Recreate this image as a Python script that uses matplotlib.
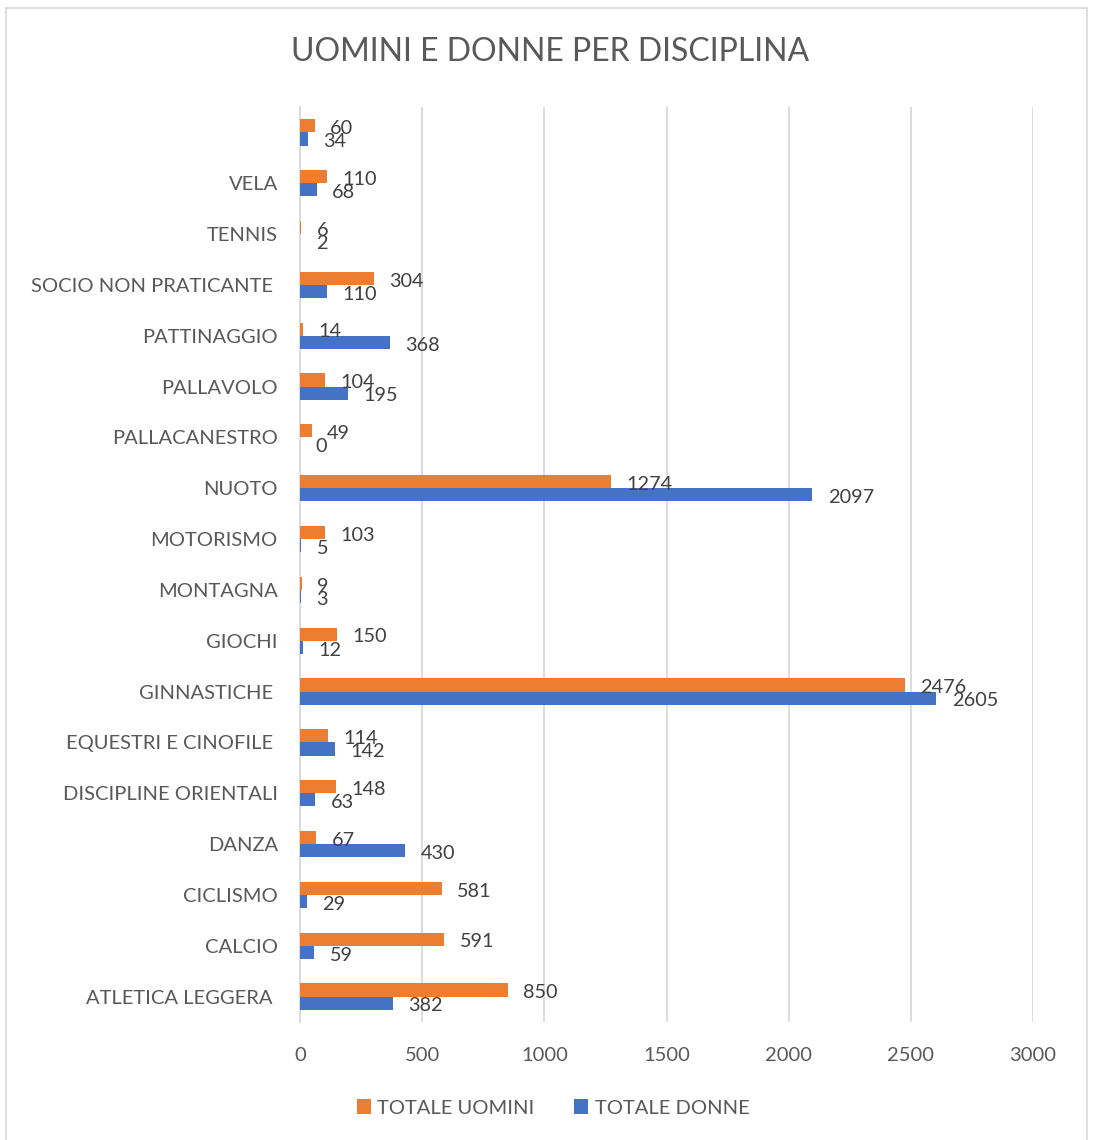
import numpy as np
import matplotlib.pyplot as plt
from matplotlib.patches import Rectangle

plt.rcParams['font.family'] = ['Lato', 'DejaVu Sans']

# categories listed bottom to top
discipline = ['ATLETICA LEGGERA ', 'CALCIO', 'CICLISMO', 'DANZA', 'DISCIPLINE ORIENTALI',
              'EQUESTRI E CINOFILE ', 'GINNASTICHE ', 'GIOCHI', 'MONTAGNA', 'MOTORISMO',
              'NUOTO', 'PALLACANESTRO', 'PALLAVOLO', 'PATTINAGGIO', 'SOCIO NON PRATICANTE ',
              'TENNIS', 'VELA', '']
totale_uomini = [850, 591, 581, 67, 148, 114, 2476, 150, 9, 103, 1274, 49, 104, 14, 304, 6, 110, 60]
totale_donne = [382, 59, 29, 430, 63, 142, 2605, 12, 3, 5, 2097, 0, 195, 368, 110, 2, 68, 34]

orange = '#ED7D31'
blue = '#4472C4'
grey_text = '#595959'

fig = plt.figure(figsize=(10.95, 11.4), dpi=100)
fig.add_artist(Rectangle((6 / 1095, -0.05), 1081 / 1095, 1.05 - 8 / 1140,
                         transform=fig.transFigure, fill=False,
                         edgecolor='#d9d9d9', linewidth=1.2))

ax = fig.add_axes([300 / 1095, 1 - 1022 / 1140, 733 / 1095, 915 / 1140])

y = np.arange(len(discipline))
h = 0.26
ax.barh(y + h / 2, totale_uomini, height=h, color=orange, label='TOTALE UOMINI', zorder=3)
ax.barh(y - h / 2, totale_donne, height=h, color=blue, label='TOTALE DONNE', zorder=3)

# data labels just right of each bar, a touch below its centre
for yi, u, d in zip(y, totale_uomini, totale_donne):
    ax.annotate(str(u), (u, yi + h / 2), xytext=(11, -2), textcoords='offset points',
                va='center', ha='left', fontsize=14.3, color='#404040')
    ax.annotate(str(d), (d, yi - h / 2), xytext=(11, -2), textcoords='offset points',
                va='center', ha='left', fontsize=14.3, color='#404040')

ax.set_xlim(0, 3000)
ax.set_ylim(-0.5, len(discipline) - 0.5)
ax.set_xticks(range(0, 3001, 500))
ax.set_yticks(y)
ax.set_yticklabels(discipline)
ax.tick_params(axis='both', length=0, labelsize=14.5, colors=grey_text)
ax.tick_params(axis='y', pad=16)
ax.tick_params(axis='x', pad=18)
ax.grid(axis='x', color='#d9d9d9', linewidth=1.3, zorder=0)
for s in ['top', 'right', 'bottom']:
    ax.spines[s].set_visible(False)
ax.spines['left'].set_color('#d9d9d9')
ax.spines['left'].set_linewidth(1.3)

fig.text(550 / 1095, 1 - 52 / 1140, 'UOMINI E DONNE PER DISCIPLINA', ha='center', va='center',
         fontsize=23, color=grey_text)

handles, labels = ax.get_legend_handles_labels()
fig.legend(handles, labels, loc='center', bbox_to_anchor=(553 / 1095, 1 - 1108 / 1140),
           ncol=2, frameon=False, fontsize=14.5, labelcolor=grey_text,
           handlelength=0.7, handleheight=0.7, handletextpad=0.3, columnspacing=2.0)

fig.savefig('out.png', dpi=100, facecolor='white')
